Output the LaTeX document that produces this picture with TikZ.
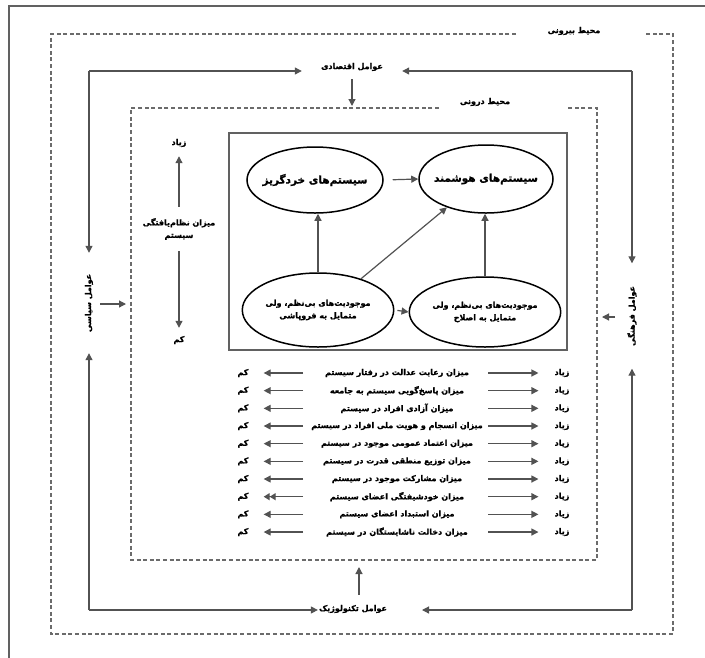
\documentclass[tikz,border=0pt]{standalone}
\usepackage{fontspec}
\usetikzlibrary{arrows.meta,shapes.geometric}
\TeXXeTstate=1
\newfontfamily\persianfont[Script=Arabic, BoldFeatures={FakeBold=1.2}]{DejaVu Sans}
\newcommand{\fa}[1]{\beginR #1\endR}

\tikzset{
  frameline/.style={draw=black!62, line width=1.2pt},
  envline/.style={draw=black!58, line width=1.3pt, dash pattern=on 4pt off 2.6pt},
  arr/.style={draw=black!68, line width=1.2pt, -{Triangle[length=7pt,width=7pt]}},
  darr/.style={draw=black!68, line width=1.2pt, -{Triangle[length=6pt,width=7pt]Triangle[length=6pt,width=7pt]}},
  txt/.style={font=\persianfont\bfseries\fontsize{8}{12.5}\selectfont, inner sep=1pt, align=center},
  bigtxt/.style={font=\persianfont\bfseries\fontsize{10.5}{13}\selectfont},
  % the outline size is set by the minimum sizes alone
  oval/.style={ellipse, draw=black, line width=1.5pt, inner xsep=-22pt, inner ysep=0pt, align=center},
}

\begin{document}
\begin{tikzpicture}[x=1pt,y=-1pt]
\useasboundingbox (0,0) rectangle (705,657);

% page frame
\draw[frameline] (9,662) -- (9,6) -- (710,6);

% outer and inner environments
\draw[envline] (516,34) -- (51,34) -- (51,634) -- (673,634) -- (673,34) -- (646,34);
\node[txt] (outerlbl) at (574,31) {\fa{محیط بیرونی}};
\draw[envline] (439,108) -- (131,108) -- (131,560) -- (597,560) -- (597,108) -- (566,108);
\node[txt] (innerlbl) at (485,102) {\fa{محیط درونی}};

% corners of the factor loop
\coordinate (c1) at (89,71);
\coordinate (c2) at (632,71);
\coordinate (c3) at (632,610);
\coordinate (c4) at (89,610);

% economic factors (top)
\node[txt, minimum width=100pt] (econ) at (352,67) {\fa{عوامل اقتصادی}};
\draw[arr] (c1) -- (c1 -| econ.west);
\draw[arr] (c2) -- (c2 -| econ.east);
\coordinate (intop) at (352,106);
\draw[arr] ([yshift=-7pt]econ.south) -- (intop);

% technological factors (bottom)
\node[txt] (tech) at (353,609) {\fa{عوامل تکنولوژیک}};
\coordinate (techR) at (422,610);
\draw[arr] (c4) -- (c4 -| tech.west);
\draw[arr] (c3) -- (techR);
\coordinate (inbot) at (359,567);
\draw[arr] ([xshift=6pt,yshift=9pt]tech.north) -- (inbot);

% political factors (left)
\node[txt, rotate=90, minimum width=100pt] (polit) at (89,303) {\fa{عوامل سیاسی}};
\draw[arr] (c1) -- (polit.east);
\draw[arr] (c4) -- (polit.west);
\coordinate (inleft) at (126,304);
\draw[arr] ([xshift=11pt,yshift=-1pt]polit.center) -- (inleft);

% cultural factors (right)
\node[txt, rotate=90, minimum width=105pt] (cult) at (632,316) {\fa{عوامل فرهنگی}};
\draw[arr] (c2) -- (cult.east);
\draw[arr] (c3) -- (cult.west);
\coordinate (inright) at (602,317);
\draw[arr] ([xshift=-17pt,yshift=-1pt]cult.center) -- (inright);

% core box with the four system states
\node[draw=black!62, line width=1.4pt, minimum width=338pt, minimum height=217pt] (core) at (398,241.5) {};
\node[oval, bigtxt, minimum width=136pt, minimum height=66pt] (frag) at (315,180) {\fa{سیستم‌های خردگریز}};
\node[oval, bigtxt, minimum width=134pt, minimum height=68pt] (smart) at (486,179) {\fa{سیستم‌های هوشمند}};
\node[oval, txt, minimum width=144pt, minimum height=74pt] (collapse) at (318,310) {\fa{موجودیت‌های بی‌نظم، ولی}\\\fa{متمایل به فروپاشی}};
\node[oval, txt, minimum width=136pt, minimum height=70pt] (reform) at (485,312) {\fa{موجودیت‌های بی‌نظم، ولی}\\\fa{متمایل به اصلاح}};

\draw[arr, shorten <=9pt] (frag.east) -- (smart.west);
\draw[arr, shorten <=3pt] (collapse.east) -- (reform.west);
\draw[arr] (collapse.north) -- (collapse.north |- frag.south);
\draw[arr] (reform.north) -- (reform.north |- smart.south);
\draw[arr] (collapse.36) -- (smart.216);

% degree of system order
\node[txt] (high) at (179,143) {\fa{زیاد}};
\node[txt] (axis) at (179,229) {\fa{میزان نظام‌یافتگی}\\\fa{سیستم}};
\node[txt] (low) at (179,340) {\fa{کم}};
\draw[arr, shorten <=10pt, shorten >=8pt] (axis.north) -- (high.south);
\draw[arr, shorten <=10pt, shorten >=7pt] (axis.south) -- (low.north);

% indicator scales
\coordinate (lstart) at (303,0);
\coordinate (rstart) at (488,0);
\foreach \txt [count=\i] in {
  میزان رعایت عدالت در رفتار سیستم,
  میزان پاسخ‌گویی سیستم به جامعه,
  میزان آزادی افراد در سیستم,
  میزان انسجام و هویت ملی افراد در سیستم,
  میزان اعتماد عمومی موجود در سیستم,
  میزان توزیع منطقی قدرت در سیستم,
  میزان مشارکت موجود در سیستم,
  میزان خودشیفتگی اعضای سیستم,
  میزان استبداد اعضای سیستم,
  میزان دخالت ناشایستگان در سیستم}{
  \pgfmathsetmacro\yy{373+17.67*(\i-1)}
  \ifnum\i=8 \tikzset{tipsel/.style=darr}\else\tikzset{tipsel/.style=arr}\fi
  \node[txt] (row\i) at (397,\yy) {\fa{\txt}};
  \node[txt] (low\i) at (243,\yy) {\fa{کم}};
  \node[txt] (high\i) at (562,\yy) {\fa{زیاد}};
  \draw[tipsel, shorten >=14pt] (row\i -| lstart) -- (low\i);
  \draw[arr, shorten >=15pt] (row\i -| rstart) -- (high\i);
}
\end{tikzpicture}
\end{document}
